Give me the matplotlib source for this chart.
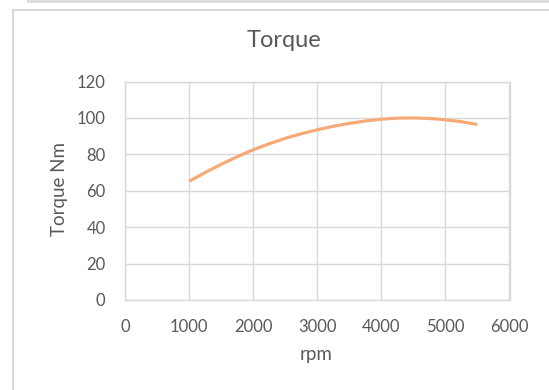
import matplotlib
matplotlib.use("Agg")
import matplotlib.pyplot as plt
from matplotlib.lines import Line2D

rpm = [1000, 1250, 1500, 1750, 2000, 2250, 2500, 2750, 3000, 3250,
       3500, 3750, 4000, 4250, 4500, 4750, 5000, 5250, 5500]
torque = [65.2, 70.0, 74.5, 78.7, 82.5, 85.8, 88.8, 91.3, 93.5, 95.4,
          97.0, 98.3, 99.3, 99.9, 100.0, 99.7, 99.0, 97.9, 96.4]
x_ticks = [0, 1000, 2000, 3000, 4000, 5000, 6000]
y_ticks = [0, 20, 40, 60, 80, 100, 120]

plt.rcParams['font.family'] = ['Lato', 'DejaVu Sans']
txt = '#595959'
grid = '#D9D9D9'
W, H = 549, 390

fig = plt.figure(figsize=(5.49, 3.90), dpi=100)
fig.patch.set_facecolor('white')

# screenshot frame lines
fig.add_artist(Line2D([28/W, 1], [1 - 1/H, 1 - 1/H], color=grid, lw=2.0))
fig.add_artist(Line2D([28/W, 28/W], [1 - 1/H, 1], color=grid, lw=1.5))
fig.add_artist(Line2D([12.5/W, 1], [1 - 10/H, 1 - 10/H], color=grid, lw=1.5))
fig.add_artist(Line2D([12.5/W, 12.5/W], [0, 1 - 10/H], color=grid, lw=1.5))

ax = fig.add_axes([125/W, 1 - 300/H, (509.5 - 125)/W, (300 - 81.5)/H])
ax.plot(rpm, torque, color='#F5AA78', lw=2.3, solid_capstyle='butt',
        solid_joinstyle='round')
ax.set_xlim(0, 6000)
ax.set_ylim(0, 120)
ax.set_xticks(x_ticks)
ax.set_yticks(y_ticks)
ax.grid(True, color=grid, lw=1.0)
ax.set_axisbelow(True)
for s in ax.spines.values():
    s.set_color(grid)
    s.set_linewidth(1.0)
ax.tick_params(length=0, colors=txt, labelsize=12)
ax.tick_params(axis='y', pad=14)
ax.tick_params(axis='x', pad=14)

fig.text(316/W, 1 - 360/H, 'rpm', ha='center', va='baseline', color=txt, fontsize=13.5)
fig.text(59/W, 1 - 189/H, 'Torque Nm', ha='center', va='center', rotation=90,
         color=txt, fontsize=13.5)
fig.text(284/W, 1 - 47/H, 'Torque', ha='center', va='baseline', color=txt,
         fontsize=17)

fig.savefig('out.png', dpi=100, facecolor='white')
